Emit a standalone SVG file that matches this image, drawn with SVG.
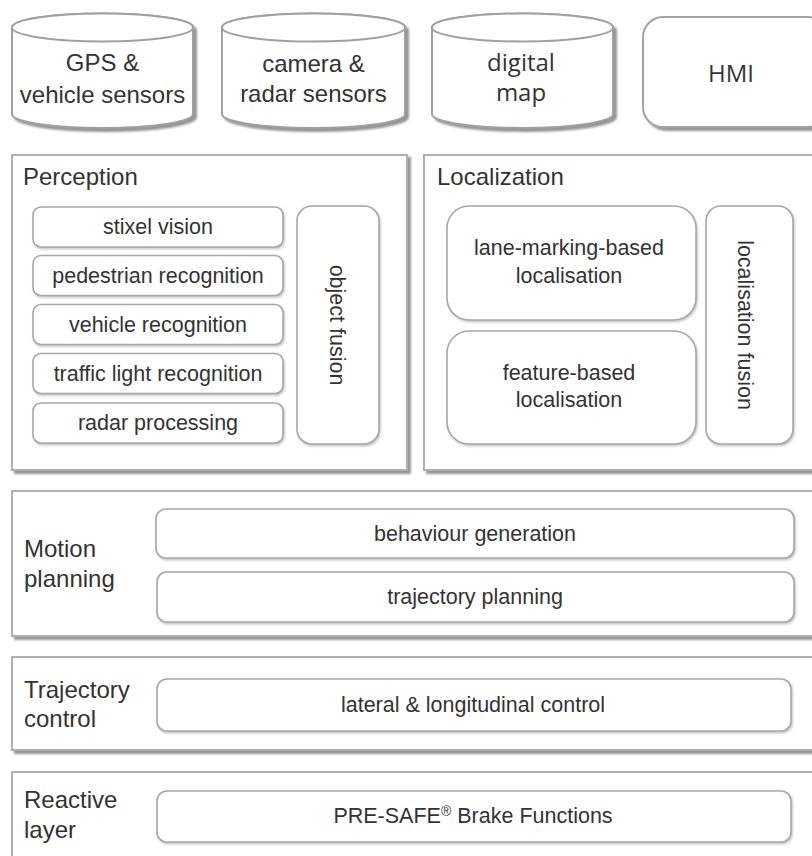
<svg xmlns="http://www.w3.org/2000/svg" width="812" height="856" viewBox="0 0 812 856">
<defs>
<filter id="sh" x="-5%" y="-5%" width="115%" height="120%">
<feDropShadow dx="3" dy="3" stdDeviation="1.2" flood-color="#7a7a7a" flood-opacity="0.8"/>
</filter>
<filter id="sh2" x="-5%" y="-5%" width="115%" height="120%">
<feDropShadow dx="1" dy="1.5" stdDeviation="0.8" flood-color="#9a9a9a" flood-opacity="0.6"/>
</filter>
</defs>
<style>
.outer{fill:#fff;stroke:#b0b0b0;stroke-width:2;filter:url(#sh)}
.inner{fill:#fff;stroke:#a8a8a8;stroke-width:1.6;filter:url(#sh2)}
.cyl{fill:#fff;stroke:#a0a0a0;stroke-width:2}
.t{font-family:"Liberation Sans",Arial,sans-serif;fill:#333}
.c{font-family:"Open Sans","Liberation Sans",sans-serif;fill:#333}
.big{font-size:24px}
.mid{font-size:21.5px}
.sm{font-size:21.5px}
.m{text-anchor:middle}
</style>
<rect width="812" height="856" fill="#fff"/>

<g id="gps">
<path class="cyl" filter="url(#sh)" d="M12,27.5 L12,114 A90.5,14 0 0,0 193,114 L193,27.5 A90.5,14 0 0,0 12,27.5 Z"/>
<ellipse class="cyl" cx="102.5" cy="27.5" rx="90.5" ry="14"/>
<text class="t big m" x="102.5" y="71">GPS &amp;</text>
<text class="t big m" x="102.5" y="103">vehicle sensors</text>
</g>

<g id="camera">
<path class="cyl" filter="url(#sh)" d="M222,27.5 L222,114 A91.5,14 0 0,0 405,114 L405,27.5 A91.5,14 0 0,0 222,27.5 Z"/>
<ellipse class="cyl" cx="313.5" cy="27.5" rx="91.5" ry="14"/>
<text class="t big m" x="313.5" y="72">camera &amp;</text>
<text class="t big m" x="313.5" y="102">radar sensors</text>
</g>

<g id="map">
<path class="cyl" filter="url(#sh)" d="M432,27.5 L432,114 A90.5,14 0 0,0 613,114 L613,27.5 A90.5,14 0 0,0 432,27.5 Z"/>
<ellipse class="cyl" cx="522.5" cy="27.5" rx="90.5" ry="14"/>
<text class="c big m" x="521" y="71">digital</text>
<text class="c big m" x="521" y="101">map</text>
</g>

<g id="hmi">
<rect class="cyl" filter="url(#sh)" x="643" y="17" width="185" height="110" rx="20"/>
<text class="c big m" x="731" y="82">HMI</text>
</g>

<g id="perception">
<rect class="outer" x="12" y="155" width="395" height="315"/>
<text class="t big" x="23" y="185">Perception</text>
</g>
<g id="stixel">
<rect class="inner" x="33" y="207" width="250" height="40" rx="8"/>
<text class="t mid m" x="158" y="234">stixel vision</text>
</g>
<g id="pedestrian">
<rect class="inner" x="33" y="255.5" width="250" height="40" rx="8"/>
<text class="t mid m" x="158" y="283">pedestrian recognition</text>
</g>
<g id="vehicle">
<rect class="inner" x="33" y="304.5" width="250" height="40" rx="8"/>
<text class="t mid m" x="158" y="332">vehicle recognition</text>
</g>
<g id="traffic">
<rect class="inner" x="33" y="353.5" width="250" height="40" rx="8"/>
<text class="t mid m" x="158" y="381">traffic light recognition</text>
</g>
<g id="radar">
<rect class="inner" x="33" y="403" width="250" height="40" rx="8"/>
<text class="t mid m" x="158" y="430">radar processing</text>
</g>
<g id="objfusion">
<rect class="inner" x="297" y="206" width="82" height="238" rx="15"/>
<text class="t mid m" transform="translate(330,325) rotate(90)" x="0" y="0">object fusion</text>
</g>

<g id="localization">
<rect class="outer" x="424" y="155" width="400" height="315"/>
<text class="t big" x="437" y="185">Localization</text>
</g>
<g id="lanemark">
<rect class="inner" x="447" y="206" width="249" height="114" rx="22"/>
<text class="t mid m" x="569" y="255">lane-marking-based</text>
<text class="t mid m" x="569" y="283">localisation</text>
</g>
<g id="featurebased">
<rect class="inner" x="447" y="331" width="249" height="113" rx="22"/>
<text class="t mid m" x="569" y="380">feature-based</text>
<text class="t mid m" x="569" y="407">localisation</text>
</g>
<g id="locfusion">
<rect class="inner" x="706" y="206" width="87" height="238" rx="15"/>
<text class="t mid m" transform="translate(738,325) rotate(90)" x="0" y="0">localisation fusion</text>
</g>

<g id="motion">
<rect class="outer" x="12" y="491" width="810" height="145"/>
<text class="t big" x="24" y="557">Motion</text>
<text class="t big" x="24" y="587">planning</text>
</g>
<g id="behaviour">
<rect class="inner" x="156" y="509" width="638" height="49" rx="10"/>
<text class="t sm m" x="475" y="541">behaviour generation</text>
</g>
<g id="trajplanning">
<rect class="inner" x="157" y="572" width="637" height="50" rx="10"/>
<text class="t sm m" x="475" y="604">trajectory planning</text>
</g>

<g id="trajcontrol">
<rect class="outer" x="12" y="657" width="810" height="93"/>
<text class="t big" x="24" y="698">Trajectory</text>
<text class="t big" x="24" y="727">control</text>
</g>
<g id="latlong">
<rect class="inner" x="157" y="679" width="634" height="52" rx="10"/>
<text class="t sm m" x="473" y="712">lateral &amp;  longitudinal control</text>
</g>

<g id="reactive">
<rect class="outer" x="12" y="772" width="810" height="95"/>
<text class="t big" x="24" y="808">Reactive</text>
<text class="t big" x="24" y="838">layer</text>
</g>
<g id="presafe">
<rect class="inner" x="157" y="791" width="634" height="51" rx="10"/>
<text class="t sm m" x="473" y="823">PRE-SAFE<tspan font-size="14" dy="-7">®</tspan><tspan dy="7"> Brake Functions</tspan></text>
</g>

<g id="connectors"></g>
</svg>
